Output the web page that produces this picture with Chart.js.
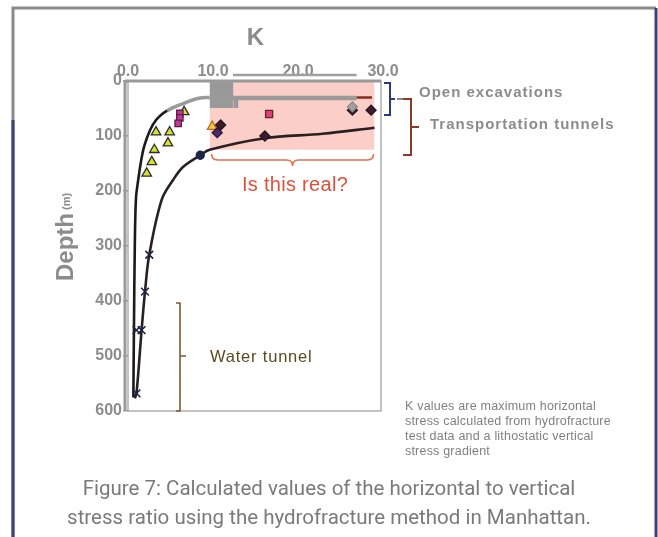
<!DOCTYPE html>
<html>
<head>
<meta charset="utf-8">
<title>K ratio vs depth - Manhattan</title>
<script src="https://cdn.jsdelivr.net/npm/chart.js"></script>
<style>
  html, body { margin: 0; padding: 0; background: #fff; }
  #wrap { position: relative; width: 658px; height: 537px; }
</style>
</head>
<body>
<div id="wrap"><canvas id="kChart"></canvas></div>
<script>
// values: K (horizontal/vertical stress) against depth in m
const kTicks = [0, 10, 20, 30];
const depthTicks = [0, 100, 200, 300, 400, 500, 600];

// outer envelope curve, black lower part and grey upper part
const envK = [0.63, 0.7, 0.8, 0.94, 1.2, 1.5, 1.9, 2.6, 3.3, 4.1, 4.6];
const envDepth = [575, 450, 300, 213, 180, 149, 119, 89, 71, 59, 54];
const envTopK = [4.6, 5.5, 6.5, 7.5, 8.5, 9.6];
const envTopDepth = [54, 47, 41, 35, 31, 30];
const openExcK = [9.6, 26.9];
const openExcDepth = [31, 31];
const redTickK = [26.9, 28.7];
const redTickDepth = [30, 30];
const topStripK = [12.35, 26.9];
const topStripDepth = [-11, -11];

// inner curve through the water tunnel data
const innerK = [0.8, 1.0, 1.6, 2.0, 2.5, 3.96, 5.3, 6.5, 8.5, 9.6, 16.1, 22.9, 29.0];
const innerDepth = [577, 568, 453, 383, 316, 216, 180, 156, 135, 125, 104, 96, 85];

// shaded "is this real?" zone and grey block
const zoneK = [9.6, 29.0];
const zoneDepth = [125, 125];
const blockK = [9.6, 12.4];
const blockDepth = [49, 49];
const blockExtK = [12.4, 13.0];
const blockExtDepth = [49, 49];

// data points
const crossK = [1.0, 1.0, 1.6, 2.0, 2.5];
const crossDepth = [568, 453, 453, 383, 316];
const triK = [3.3, 4.9, 4.7, 3.1, 2.8, 2.2, 6.6];
const triDepth = [93, 93, 113, 125, 147, 168, 56];
const orangeTriK = [9.9];
const orangeTriDepth = [83];
const magSqK = [6.1, 6.1, 5.9];
const magSqDepth = [59, 67, 77];
const pinkSqK = [16.6];
const pinkSqDepth = [60];
const darkDiaK = [10.9, 16.1, 28.6, 26.4];
const darkDiaDepth = [80, 100, 53, 53];
const purpleDiaK = [10.5];
const purpleDiaDepth = [94];
const greyDiaK = [26.4];
const greyDiaDepth = [47];
const blueDotK = [8.5];
const blueDotDepth = [135];

function pts(xs, ys) {
  return xs.map((x, i) => ({ x: x, y: ys[i] }));
}

const GREY = '#8c8c8c';

const annotations = {
  id: 'annotations',
  beforeDraw(chart) {
    const ctx = chart.ctx;
    ctx.save();
    ctx.fillStyle = '#fff';
    ctx.fillRect(0, 0, chart.width, chart.height);
    // page frame
    ctx.lineWidth = 3;
    ctx.strokeStyle = '#8a8a8a';
    ctx.beginPath(); ctx.moveTo(13, 537); ctx.lineTo(13, 8); ctx.lineTo(656, 8); ctx.stroke();
    ctx.strokeStyle = '#3c4278';
    ctx.beginPath(); ctx.moveTo(656, 8); ctx.lineTo(656, 537); ctx.stroke();
    ctx.beginPath(); ctx.moveTo(13, 120); ctx.lineTo(13, 537); ctx.stroke();
    ctx.restore();
  },
  afterDraw(chart) {
    const ctx = chart.ctx;
    const a = chart.chartArea;
    const xs = chart.scales.x;
    ctx.save();
    // plot frame
    ctx.strokeStyle = '#9a9a9a';
    ctx.lineWidth = 1.2;
    ctx.strokeRect(a.left, a.top, a.right - a.left - 2, a.bottom - a.top);
    ctx.lineWidth = 3;
    ctx.beginPath(); ctx.moveTo(a.left - 3, a.top); ctx.lineTo(a.right - 2, a.top); ctx.stroke();
    ctx.beginPath(); ctx.moveTo(a.left - 3, a.top); ctx.lineTo(a.left - 3, a.bottom); ctx.stroke();

    // axis titles
    ctx.fillStyle = GREY;
    ctx.font = 'bold 24px "Liberation Sans", Arial, sans-serif';
    ctx.textAlign = 'center';
    ctx.textBaseline = 'middle';
    ctx.fillText('K', (a.left + a.right) / 2, 38);
    ctx.save();
    ctx.translate(66, 244);
    ctx.rotate(-Math.PI / 2);
    ctx.textAlign = 'left';
    ctx.font = 'bold 24px "Liberation Sans", Arial, sans-serif';
    ctx.fillText('Depth', -37, 0);
    ctx.font = 'bold 11px "Liberation Sans", Arial, sans-serif';
    ctx.fillText('(m)', 34, 1);
    ctx.restore();

    // open excavations brace (blue)
    ctx.lineWidth = 2;
    ctx.strokeStyle = '#2e3a78';
    ctx.beginPath();
    ctx.moveTo(384, 83); ctx.lineTo(390, 83); ctx.lineTo(390, 115); ctx.lineTo(384, 115);
    ctx.moveTo(390, 99); ctx.lineTo(395, 99);
    ctx.stroke();
    ctx.strokeStyle = '#888';
    ctx.beginPath(); ctx.moveTo(397, 99); ctx.lineTo(403, 99); ctx.stroke();

    // transportation tunnels bracket (brown)
    ctx.strokeStyle = '#8b3a26';
    ctx.beginPath();
    ctx.moveTo(403, 99); ctx.lineTo(411, 99); ctx.lineTo(411, 155); ctx.lineTo(403, 155);
    ctx.moveTo(411, 127); ctx.lineTo(419, 127);
    ctx.stroke();

    ctx.fillStyle = GREY;
    ctx.textAlign = 'left';
    ctx.font = 'bold 15px "Liberation Sans", Arial, sans-serif';
    ctx.letterSpacing = '1px';
    ctx.fillText('Open excavations', 419, 93);
    ctx.fillText('Transportation tunnels', 430, 125);

    // red brace under shaded zone
    const x0 = xs.getPixelForValue(zoneK[0]) + 2;
    const x1 = xs.getPixelForValue(zoneK[1]) - 1;
    const xm = (x0 + x1) / 2;
    ctx.strokeStyle = '#e0704e';
    ctx.lineWidth = 1.6;
    ctx.beginPath();
    ctx.moveTo(x0, 154);
    ctx.quadraticCurveTo(x0, 160, x0 + 6, 160);
    ctx.lineTo(xm - 6, 160);
    ctx.quadraticCurveTo(xm, 160, xm, 166);
    ctx.quadraticCurveTo(xm, 160, xm + 6, 160);
    ctx.lineTo(x1 - 6, 160);
    ctx.quadraticCurveTo(x1, 160, x1, 154);
    ctx.stroke();
    ctx.fillStyle = '#e0503a';
    ctx.textAlign = 'center';
    ctx.letterSpacing = '0.3px';
    ctx.font = '20px "Liberation Sans", Arial, sans-serif';
    ctx.fillText('Is this real?', 295, 185);

    // water tunnel bracket
    ctx.strokeStyle = '#7a5a32';
    ctx.lineWidth = 1.6;
    ctx.beginPath();
    ctx.moveTo(176, 303); ctx.lineTo(180, 303); ctx.lineTo(180, 411); ctx.lineTo(176, 411);
    ctx.moveTo(180, 356); ctx.lineTo(186, 356);
    ctx.stroke();
    ctx.fillStyle = '#5a4a22';
    ctx.textAlign = 'left';
    ctx.letterSpacing = '0.8px';
    ctx.font = '16.5px "Liberation Sans", Arial, sans-serif';
    ctx.fillText('Water tunnel', 210, 357);

    // note
    ctx.fillStyle = '#808080';
    ctx.letterSpacing = '0.2px';
    ctx.font = '12.5px "Liberation Sans", Arial, sans-serif';
    const note = ['K values are maximum horizontal', 'stress calculated from hydrofracture',
      'test data and a lithostatic vertical', 'stress gradient'];
    note.forEach((t, i) => ctx.fillText(t, 405, 407 + i * 15));

    // caption
    ctx.fillStyle = '#7a7a7a';
    ctx.textAlign = 'center';
    ctx.letterSpacing = '0px';
    ctx.font = '20.5px Roboto, "Liberation Sans", sans-serif';
    ctx.fillText('Figure 7: Calculated values of the horizontal to vertical', 329, 490);
    ctx.fillText('stress ratio using the hydrofracture method in Manhattan.', 329, 519);
    ctx.restore();
  }
};

const lineDs = (data, color, width, extra) => Object.assign({
  type: 'line', data: data, borderColor: color, borderWidth: width,
  pointRadius: 0, showLine: true, fill: false, tension: 0.35
}, extra || {});

const markDs = (data, style, fill, edge, r, extra) => Object.assign({
  type: 'scatter', data: data, pointStyle: style, backgroundColor: fill,
  borderColor: edge, pointRadius: r, pointBorderWidth: 1.3, showLine: false
}, extra || {});

new Chart(document.getElementById('kChart'), {
  data: {
    datasets: [
      markDs(pts(blueDotK, blueDotDepth), 'circle', '#1c2646', '#1c2646', 4),
      markDs(pts(greyDiaK, greyDiaDepth), 'rectRot', '#a0a0a0', '#8a8a8a', 5),
      markDs(pts(darkDiaK, darkDiaDepth), 'rectRot', '#3a1c2a', '#2a1420', 5),
      markDs(pts(purpleDiaK, purpleDiaDepth), 'rectRot', '#4c2a6a', '#2a1a3a', 5),
      markDs(pts(pinkSqK, pinkSqDepth), 'rect', '#e0407a', '#6a2030', 5),
      markDs(pts(magSqK, magSqDepth), 'rect', '#c2389a', '#5a2040', 4.5),
      markDs(pts(orangeTriK, orangeTriDepth), 'triangle', '#f2d040', '#c06a20', 5.5),
      markDs(pts(triK, triDepth), 'triangle', '#d8e030', '#2e2e2e', 5.5),
      markDs(pts(crossK, crossDepth), 'crossRot', 'rgba(0,0,0,0)', '#1e2440', 5.5, { pointBorderWidth: 1.6 }),
      lineDs(pts(innerK, innerDepth), '#2a2024', 2.6),
      lineDs(pts(envK, envDepth), '#1a1a1a', 2.6),
      lineDs(pts(envTopK, envTopDepth), '#9a9a9a', 3.5),
      lineDs(pts(redTickK, redTickDepth), '#8b2a20', 2.5, { tension: 0 }),
      lineDs(pts(openExcK, openExcDepth), '#9a9a9a', 4.5, { tension: 0 }),
      lineDs(pts(topStripK, topStripDepth), '#a0a0a0', 2.5, { tension: 0, clip: false }),
      lineDs(pts(blockExtK, blockExtDepth), '#999', 0, { tension: 0, fill: { value: 31 }, backgroundColor: '#999' }),
      lineDs(pts(blockK, blockDepth), '#999', 0, { tension: 0, fill: { value: 0 }, backgroundColor: '#999' }),
      lineDs(pts(zoneK, zoneDepth), 'rgba(0,0,0,0)', 0, { tension: 0, fill: { value: 0 }, backgroundColor: '#fbcfc7' })
    ]
  },
  options: {
    responsive: true,
    maintainAspectRatio: false,
    animation: false,
    layout: { padding: { left: 80, top: 61, right: 275, bottom: 126 } },
    plugins: { legend: { display: false }, tooltip: { enabled: false } },
    scales: {
      x: {
        type: 'linear', position: 'top', min: 0, max: 30,
        afterFit: s => { s.height = 20; },
        afterBuildTicks: s => { s.ticks = kTicks.map(v => ({ value: v })); },
        grid: { display: false, drawTicks: false },
        border: { display: false },
        ticks: {
          padding: 0, color: GREY, maxRotation: 0,
          font: { family: '"Liberation Sans", Arial, sans-serif', size: 16, weight: 'bold' },
          callback: v => v.toFixed(1)
        }
      },
      y: {
        type: 'linear', reverse: true, min: 0, max: 600,
        afterFit: s => { s.width = 48; },
        afterBuildTicks: s => { s.ticks = depthTicks.map(v => ({ value: v })); },
        grid: { drawOnChartArea: false, tickLength: 5, color: '#9a9a9a', lineWidth: 1.5 },
        border: { display: false },
        ticks: {
          padding: 1, color: GREY,
          font: { family: '"Liberation Sans", Arial, sans-serif', size: 16, weight: 'bold' }
        }
      }
    }
  },
  plugins: [annotations]
});
</script>
</body>
</html>
